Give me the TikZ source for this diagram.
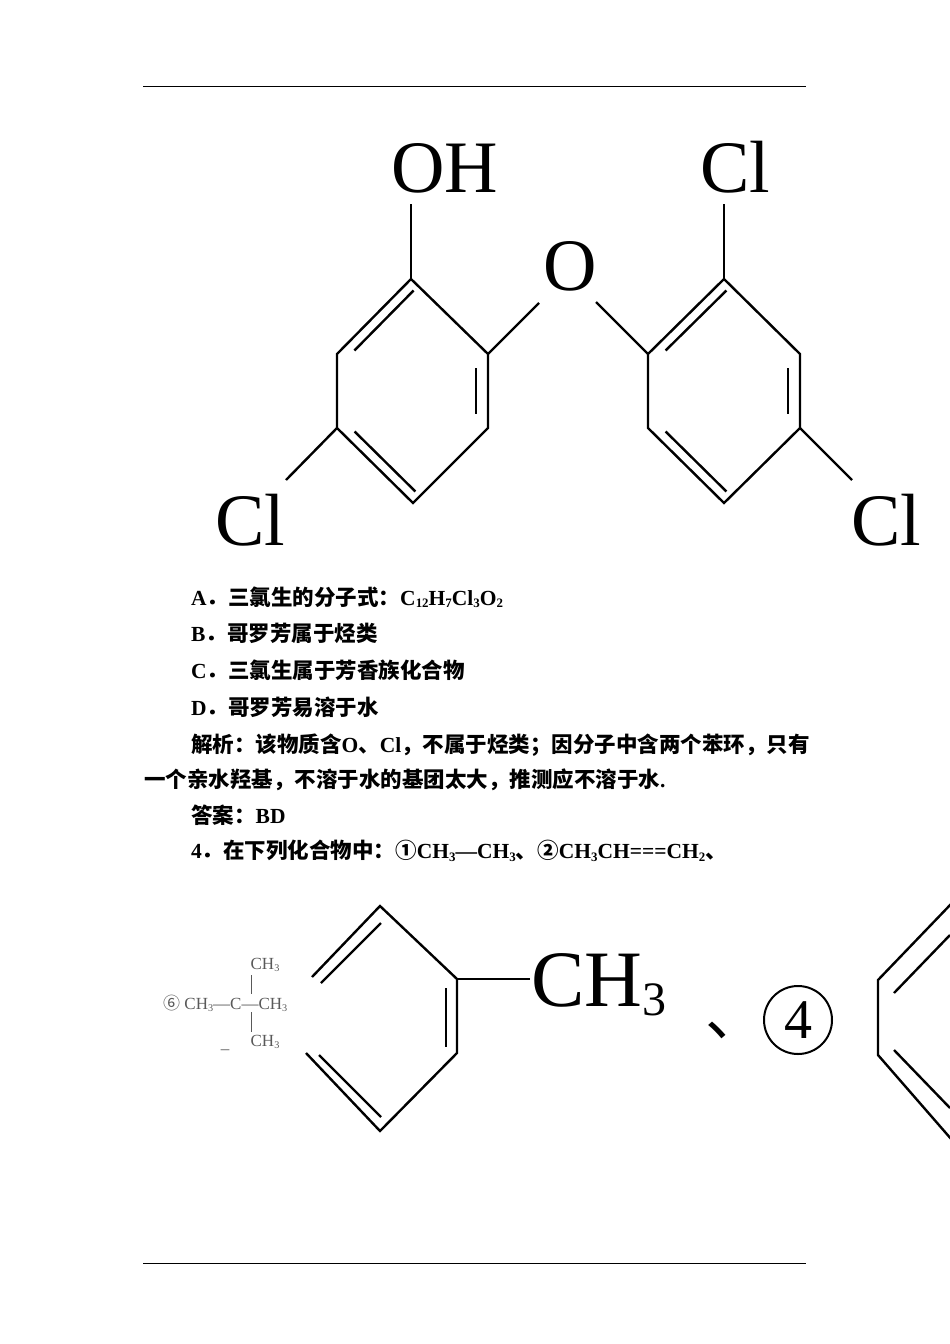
\documentclass[tikz,border=0pt]{standalone}
\usepackage{fontspec}
\usetikzlibrary{calc}
\setmainfont{Liberation Serif}
\newfontfamily\cjk{Noto Sans CJK SC}
\newcommand{\chsub}[1]{\raisebox{-0.25ex}{\scalebox{0.6}{#1}}}
\begin{document}
\begin{tikzpicture}[x=1pt,y=-1pt,line width=2.4pt,
  atom/.style={inner sep=0pt,font=\fontsize{74}{74}\selectfont},
  txt/.style={anchor=west,inner sep=0pt,font=\fontsize{21.5}{22}\selectfont\bfseries},
  thin/.style={line width=1pt,gray!70!black}]
\useasboundingbox (0,0) rectangle (950,1344);
\draw[line width=1pt] (143,86) -- (806,86);
\draw[line width=1pt] (143,1263) -- (806,1263);
% left ring
\coordinate (a1) at (411,279); \coordinate (a2) at (488,354); \coordinate (a3) at (488,428);
\coordinate (a4) at (413,503); \coordinate (a5) at (337,428); \coordinate (a6) at (337,354);
\draw (a1)--(a2)--(a3)--(a4)--(a5)--(a6)--cycle;
\draw ($(a6)!0.1!(a1)+(10,4)$) -- ($(a6)!0.9!(a1)+(10,4)$);
\draw (476,368) -- (476,414);
\draw ($(a5)!0.1!(a4)+(10,-4)$) -- ($(a5)!0.9!(a4)+(10,-4)$);
% right ring
\coordinate (b1) at (724,279); \coordinate (b2) at (800,354); \coordinate (b3) at (800,428);
\coordinate (b4) at (724,503); \coordinate (b5) at (648,428); \coordinate (b6) at (648,354);
\draw (b1)--(b2)--(b3)--(b4)--(b5)--(b6)--cycle;
\draw ($(b6)!0.1!(b1)+(10,4)$) -- ($(b6)!0.9!(b1)+(10,4)$);
\draw (788,368) -- (788,414);
\draw ($(b5)!0.1!(b4)+(10,-4)$) -- ($(b5)!0.9!(b4)+(10,-4)$);
% substituents
\node[atom] (oh) at (445,168) {OH};
\node[atom] (o) at (570,266) {O};
\node[atom] (cl1) at (250,520) {Cl};
\node[atom] (cl2) at (735,167) {Cl};
\node[atom] (cl3) at (886,520) {Cl};
\coordinate (ohb) at (411,204); \coordinate (ob1) at (539,303); \coordinate (ob2) at (596,302);
\coordinate (c1b) at (286,480); \coordinate (c2b) at (724,204); \coordinate (c3b) at (852,480);
\draw (a1)--(ohb); \draw (a2)--(ob1); \draw (ob2)--(b6);
\draw (a5)--(c1b); \draw (b1)--(c2b); \draw (b3)--(c3b);
% text lines
\node[txt] (la) at (190,597) {A{\cjk ．三氯生的分子式：}C\chsub{12}H\chsub{7}Cl\chsub{3}O\chsub{2}};
\node[txt] (lb) at (190,633) {B{\cjk ．哥罗芳属于烃类}};
\node[txt] (lc) at (190,670) {C{\cjk ．三氯生属于芳香族化合物}};
\node[txt] (ld) at (190,707) {D{\cjk ．哥罗芳易溶于水}};
\node[txt] (le) at (190,745) {{\cjk 解析：该物质含}O{\cjk 、}Cl{\cjk ，不属于烃类；因分子中含两个苯环，只有}};
\node[txt] (lf) at (143,780) {{\cjk 一个亲水羟基，不溶于水的基团太大，推测应不溶于水}.};
\node[txt] (lg) at (190,815) {{\cjk 答案：}BD};
\node[txt] (lh) at (190,851) {4{\cjk ．在下列化合物中：①}CH\chsub{3}—CH\chsub{3}{\cjk 、②}CH\chsub{3}CH===CH\chsub{2}{\cjk 、}};
% tert-butyl small
\begin{scope}[font=\fontsize{17}{17}\selectfont,text=gray!70!black]
\node[inner sep=0pt,anchor=west] (tb) at (162,1003) {{\cjk ⑥} CH\chsub{3}—C—CH\chsub{3}};
\node[inner sep=0pt] (tt) at (265,965) {CH\chsub{3}};
\node[inner sep=0pt] (tbm) at (265,1042) {CH\chsub{3}};
\node[inner sep=0pt] (us) at (225,1050) {\_};
\end{scope}
\draw[thin] (251,975) -- (251,994); \draw[thin] (251,1012) -- (251,1032);
% toluene
\coordinate (t1) at (380,906); \coordinate (t2) at (457,979); \coordinate (t3) at (457,1053);
\coordinate (t4) at (380,1131); \coordinate (t5) at (306,1053); \coordinate (t6) at (312,977);
\draw (t6)--(t1)--(t2)--(t3)--(t4)--(t5);
\draw (321,983)--(381,923);
\draw (446,988)--(446,1047);
\draw (319,1055)--(381,1117);
\coordinate (tm) at (530,979);
\draw (t2)--(tm);
\node[inner sep=0pt,anchor=west,font=\fontsize{80}{80}\selectfont] (ch3) at (530,985) {CH\chsub{3}};
\node[inner sep=0pt,font=\fontsize{60}{60}\selectfont] (dun) at (735,1030) {{\cjk 、}};
\node[circle,draw,line width=2pt,minimum size=68pt,inner sep=0pt,font=\fontsize{56}{56}\selectfont] (n4) at (798,1020) {4};
% partial ring right
\draw (952,903)--(878,980)--(878,1055)--(952,1140);
\draw (950,935)--(894,993);
\draw (894,1050)--(950,1108);
\end{tikzpicture}
\end{document}
